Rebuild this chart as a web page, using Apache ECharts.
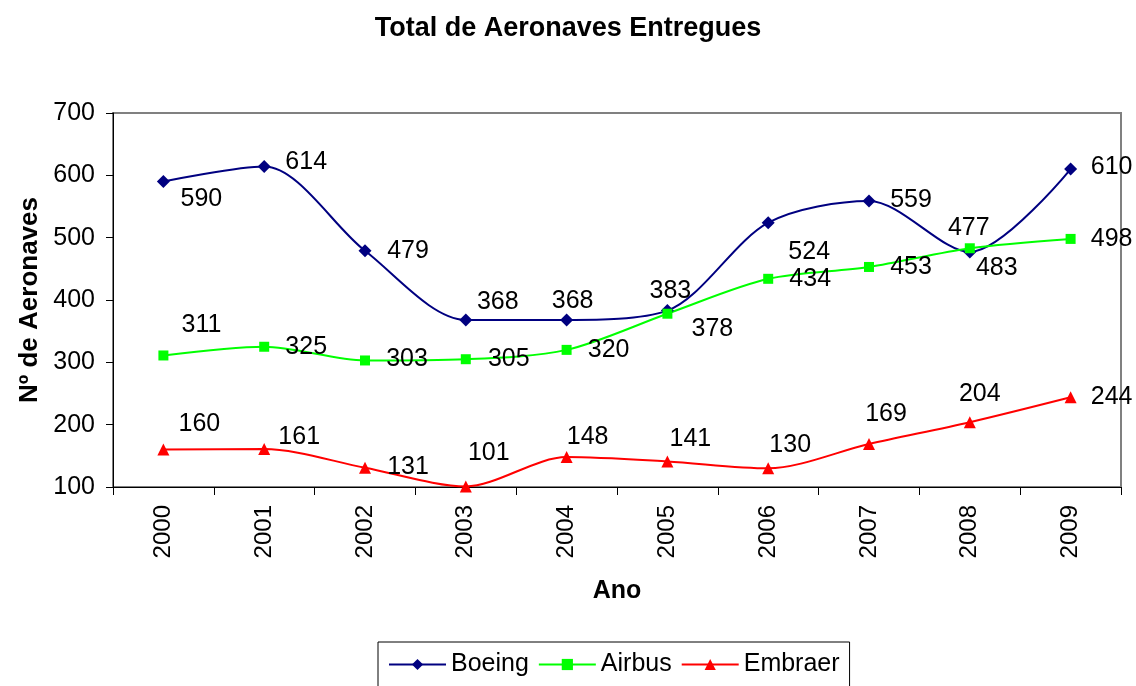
<!DOCTYPE html>
<html>
<head>
<meta charset="utf-8">
<title>Total de Aeronaves Entregues</title>
<script src="https://cdn.jsdelivr.net/npm/echarts@6/dist/echarts.min.js"></script>
<style>
  html, body { margin: 0; padding: 0; background: #fff; }
  #chart { width: 1136px; height: 686px; }
</style>
</head>
<body>
<div id="chart"></div>
<script>
// dados do grafico
const anos = ['2000', '2001', '2002', '2003', '2004', '2005', '2006', '2007', '2008', '2009']
const boeing = [590, 614, 479, 368, 368, 383, 524, 559, 477, 610]
const airbus = [311, 325, 303, 305, 320, 378, 434, 453, 483, 498]
const embraer = [160, 161, 131, 101, 148, 141, 130, 169, 204, 244]

// deslocamento dos rotulos (px, relativo ao ponto)
const offBoeing = [[38, 18], [42, -4], [43, 0], [32, -18], [6, -19], [3, -19], [41, 29], [42, -1], [-1, -24], [41, -2]]
const offAirbus = [[38, -30], [42, 0], [42, -1], [43, 0], [42, 0], [45, 15], [42, 0], [42, 0], [27, 20], [41, 0]]
const offEmbraer = [[36, -25], [35, -12], [43, -1], [23, -33], [21, -20], [23, -22], [22, -23], [17, -30], [10, -28], [41, 0]]

const font = 'Liberation Sans, Arial, sans-serif'

function makeData (values, offsets) {
  return values.map((v, i) => ({
    value: v,
    label: { offset: offsets[i] }
  }))
}

function makeSeries (name, values, offsets, color, symbol, size) {
  return {
    name: name,
    type: 'line',
    smooth: 0.3,
    symbol: symbol,
    symbolSize: size,
    lineStyle: { color: color, width: 2 },
    itemStyle: { color: color },
    label: {
      show: true,
      position: 'inside',
      align: 'center',
      verticalAlign: 'middle',
      color: '#000',
      fontFamily: font,
      fontSize: 25
    },
    emphasis: { disabled: true },
    data: makeData(values, offsets)
  }
}

const chart = echarts.init(document.getElementById('chart'))
chart.setOption({
  animation: false,
  backgroundColor: '#fff',
  title: {
    text: 'Total de Aeronaves Entregues',
    left: 'center',
    top: 10,
    textStyle: { fontFamily: font, fontSize: 27, fontWeight: 'bold', color: '#000' }
  },
  grid: {
    left: 113,
    right: 15,
    top: 113,
    bottom: 199,
    show: true,
    borderColor: '#808080',
    borderWidth: 2
  },
  legend: {
    left: 378,
    top: 642,
    padding: [10, 10, 20, 10],
    itemWidth: 57,
    itemHeight: 14,
    itemGap: 9,
    borderColor: '#000',
    borderWidth: 1,
    textStyle: { fontFamily: font, fontSize: 25, color: '#000' },
    data: ['Boeing', 'Airbus', 'Embraer']
  },
  xAxis: {
    type: 'category',
    data: anos,
    boundaryGap: true,
    name: 'Ano',
    nameLocation: 'middle',
    nameGap: 92,
    nameTextStyle: { fontFamily: font, fontSize: 25, fontWeight: 'bold', color: '#000' },
    axisLine: { lineStyle: { color: '#000', width: 1 } },
    axisTick: { show: true, length: 8, interval: 0, lineStyle: { color: '#000' } },
    axisLabel: { rotate: 90, interval: 0, margin: 18, fontFamily: font, fontSize: 24, color: '#000' },
    splitLine: { show: false }
  },
  yAxis: {
    type: 'value',
    min: 100,
    max: 700,
    interval: 100,
    name: 'Nº de Aeronaves',
    nameLocation: 'middle',
    nameGap: 70,
    nameTextStyle: { fontFamily: font, fontSize: 26, fontWeight: 'bold', color: '#000' },
    axisLine: { show: true, lineStyle: { color: '#000', width: 1 } },
    axisTick: { show: true, length: 7, lineStyle: { color: '#000' } },
    axisLabel: { margin: 18, fontFamily: font, fontSize: 25, color: '#000' },
    splitLine: { show: false }
  },
  series: [
    makeSeries('Boeing', boeing, offBoeing, '#000080', 'diamond', 13),
    makeSeries('Airbus', airbus, offAirbus, '#00ff00', 'rect', 10),
    makeSeries('Embraer', embraer, offEmbraer, '#ff0000', 'triangle', 12)
  ]
})
</script>
</body>
</html>
